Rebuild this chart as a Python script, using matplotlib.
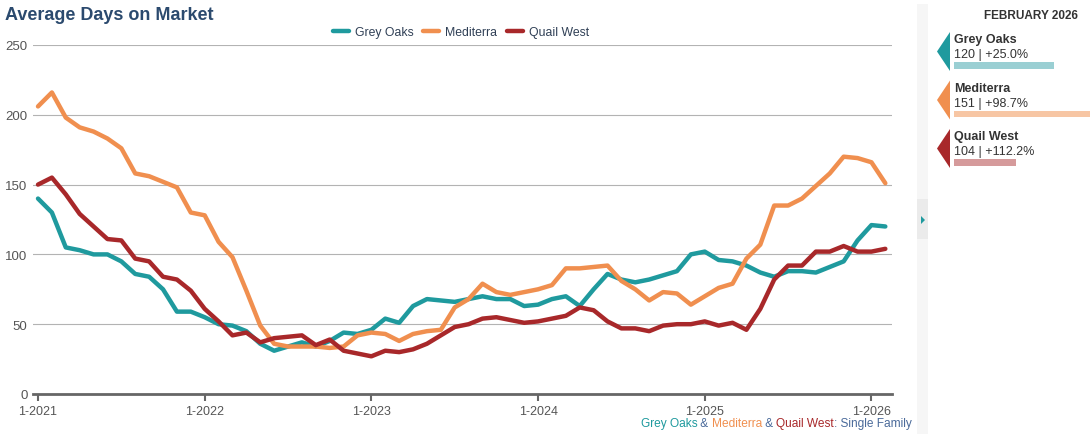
import matplotlib
matplotlib.use("Agg")
import matplotlib.pyplot as plt
from matplotlib.patches import Rectangle, Polygon

plt.rcParams['font.family'] = ['Liberation Sans', 'DejaVu Sans']

# ---------------- data ----------------
series_names = ["Grey Oaks", "Mediterra", "Quail West"]
series_colors = ["#1f9a9e", "#f08f4f", "#a8282a"]
series_light = ["#9acfd3", "#f7c6a4", "#d59a9b"]

grey_oaks = [140, 130, 105, 103, 100, 100, 95, 86, 84, 75, 59, 59,
             55, 50, 49, 45, 36, 31, 34, 37, 34, 38, 44, 43,
             46, 54, 51, 63, 68, 67, 66, 68, 70, 68, 68, 63,
             64, 68, 70, 63, 75, 86, 82, 80, 82, 85, 88, 100,
             102, 96, 95, 92, 87, 84, 88, 88, 87, 91, 95, 110,
             121, 120]
mediterra = [206, 216, 198, 191, 188, 183, 176, 158, 156, 152, 148, 130,
             128, 109, 98, 74, 49, 36, 34, 34, 34, 33, 34, 42,
             44, 43, 38, 43, 45, 46, 62, 68, 79, 73, 71, 73,
             75, 78, 90, 90, 91, 92, 81, 75, 67, 73, 72, 64,
             70, 76, 79, 97, 107, 135, 135, 140, 149, 158, 170, 169,
             166, 151]
quail_west = [150, 155, 143, 129, 120, 111, 110, 97, 95, 84, 82, 74,
              61, 52, 42, 44, 37, 40, 41, 42, 35, 39, 31, 29,
              27, 31, 30, 32, 36, 42, 48, 50, 54, 55, 53, 51,
              52, 54, 56, 62, 60, 52, 47, 47, 45, 49, 50, 50,
              52, 49, 51, 46, 61, 82, 92, 92, 102, 102, 106, 102,
              102, 104]

tick_positions = [0, 12, 24, 36, 48, 60]
tick_labels = ["1-2021", "1-2022", "1-2023", "1-2024", "1-2025", "1-2026"]
y_ticks = [0, 50, 100, 150, 200, 250]

panel_title = "FEBRUARY 2026"
panel_values = ["120 | +25.0%", "151 | +98.7%", "104 | +112.2%"]
panel_bar_rel = [0.735, 1.0, 0.455]

# ---------------- figure ----------------
W, H = 1090, 435
fig = plt.figure(figsize=(W / 100, H / 100), dpi=100)

def px_rect(l, r, t, b):
    return [l / W, 1 - b / H, (r - l) / W, (b - t) / H]

ax = fig.add_axes(px_rect(33, 892, 46, 395))
x = list(range(len(grey_oaks)))
for data, name, col in zip([grey_oaks, mediterra, quail_west], series_names, series_colors):
    ax.plot(x, data, color=col, lw=3.2, label=name,
            solid_joinstyle='round', solid_capstyle='round', zorder=3)

ax.set_xlim(-0.36, 61.48)
ax.set_ylim(0, 250)
ax.set_yticks(y_ticks)
ax.set_yticklabels([str(v) for v in y_ticks])
ax.set_xticks(tick_positions)
ax.set_xticklabels(tick_labels)
ax.grid(axis='y', color='#b3b3b3', lw=0.8)
ax.set_axisbelow(True)
for s in ['top', 'right', 'left']:
    ax.spines[s].set_visible(False)
ax.spines['bottom'].set_color('#666666')
ax.spines['bottom'].set_linewidth(2.0)
ax.tick_params(axis='y', length=0, pad=4, labelsize=9.5, labelcolor='#555555')
ax.tick_params(axis='x', length=5, width=1.5, color='#666666', pad=3,
               labelsize=9, labelcolor='#555555')

# title
fig.text(5 / W, 1 - 15 / H, "Average Days on Market", fontsize=13, fontweight='bold',
         color='#2b4a6e', ha='left', va='center')

# legend
leg = fig.legend(loc='center', bbox_to_anchor=(461 / W, 1 - 33 / H), ncol=3,
                 frameon=False, fontsize=8.8, handlelength=1.3, handletextpad=0.5,
                 columnspacing=0.8)
for t in leg.get_texts():
    t.set_color('#2f3f55')

# overlay axes in pixel coordinates
ov = fig.add_axes([0, 0, 1, 1], zorder=-1)
ov.set_xlim(0, W)
ov.set_ylim(H, 0)
ov.axis('off')

ov2 = fig.add_axes([0, 0, 1, 1], zorder=5)
ov2.set_xlim(0, W)
ov2.set_ylim(H, 0)
ov2.axis('off')
ov2.patch.set_alpha(0)

# side strip
ov.add_patch(Rectangle((917, 5), 11, 430, color='#f6f6f6', lw=0))
ov.add_patch(Rectangle((917, 200), 11, 40, color='#ebebeb', lw=0))
ov2.add_patch(Polygon([(921, 217), (921, 225), (925, 221)], closed=True,
                      color='#1f9a9e', lw=0))

# right panel
ov2.text(1078, 16, panel_title, fontsize=8.5, fontweight='bold', color='#333333',
         ha='right', va='center')
bar_max = 1090 - 954
for i, (name, val, col, lcol, rel) in enumerate(zip(series_names, panel_values,
                                                    series_colors, series_light,
                                                    panel_bar_rel)):
    off = i * 48.5
    ov2.add_patch(Polygon([(937, 52.5 + off), (950, 33 + off), (950, 72 + off)],
                          closed=True, color=col, lw=0))
    ov2.text(954, 40 + off, name, fontsize=9, fontweight='bold', color='#333333',
             ha='left', va='center')
    ov2.text(954, 55 + off, val, fontsize=9, color='#333333', ha='left', va='center')
    ov2.add_patch(Rectangle((954, 63 + off), bar_max * rel, 6.5, color=lcol, lw=0))

# caption (multi-coloured, right aligned)
parts = [("Grey Oaks", series_colors[0]), (" & ", '#4a6a9a'),
         ("Mediterra", series_colors[1]), (" & ", '#4a6a9a'),
         ("Quail West", series_colors[2]), (": Single Family", '#4a6a9a')]
renderer = fig.canvas.get_renderer()
texts = []
cx = 0.0
for s, c in parts:
    t = ov2.text(cx, 424, s, fontsize=8.6, color=c, ha='left', va='center')
    bb = t.get_window_extent(renderer=renderer)
    texts.append(t)
    cx += bb.width
shift = 912 - cx
for t in texts:
    px, py = t.get_position()
    t.set_position((px + shift, py))

fig.savefig("out.png", dpi=100)
